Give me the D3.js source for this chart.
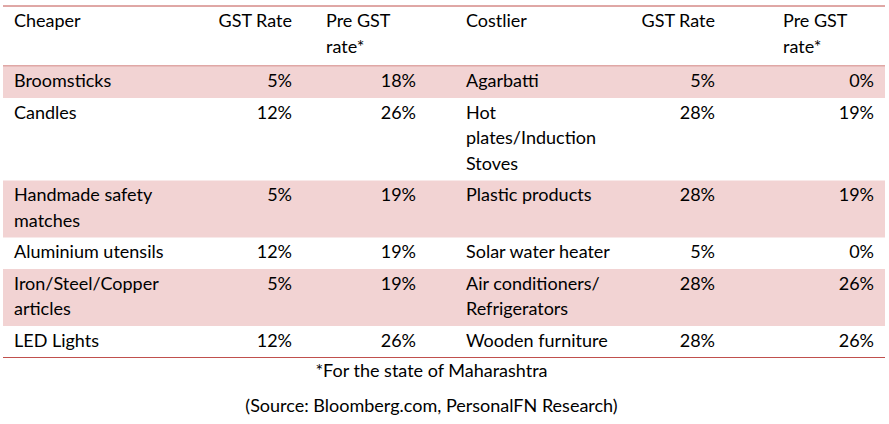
<!DOCTYPE html>
<html><head><meta charset="utf-8">
<script src="https://cdn.jsdelivr.net/npm/d3@7"></script>
<style>body{margin:0;background:#fff}</style>
</head><body><svg id="chart"></svg>
<script>
const headers = [["Cheaper"], ["GST Rate"], ["Pre GST", "rate*"], ["Costlier"], ["GST Rate"], ["Pre GST", "rate*"]];
const cheaper = [["Broomsticks"], ["Candles"], ["Handmade safety", "matches"], ["Aluminium utensils"], ["Iron/Steel/Copper", "articles"], ["LED Lights"]];
const cheaperGst = ["5%", "12%", "5%", "12%", "5%", "12%"];
const cheaperPre = ["18%", "26%", "19%", "19%", "19%", "26%"];
const costlier = [["Agarbatti"], ["Hot", "plates/Induction", "Stoves"], ["Plastic products"], ["Solar water heater"], ["Air conditioners/", "Refrigerators"], ["Wooden furniture"]];
const costlierGst = ["5%", "28%", "28%", "5%", "28%", "28%"];
const costlierPre = ["0%", "19%", "19%", "0%", "26%", "26%"];
const notes = ["*For the state of Maharashtra", "(Source: Bloomberg.com, PersonalFN Research)"];

const W = 889, H = 424, left = 3, right = 885, lh = 25.5, pad = 6;
const svg = d3.select("#chart").attr("width", W).attr("height", H)
  .style("font-family", "Lato, 'Open Sans', sans-serif").style("font-size", "18px");

// column x positions and anchors
const cols = [{x: 14, a: "start"}, {x: 292, a: "end"}, {x: 416, a: "end"},
              {x: 466, a: "start"}, {x: 715, a: "end"}, {x: 874, a: "end"}];
const headCols = [{x: 14, a: "start"}, {x: 292, a: "end"}, {x: 326, a: "start"},
                  {x: 466, a: "start"}, {x: 715, a: "end"}, {x: 783, a: "start"}];

const rows = cheaper.map((c, i) => [c, [cheaperGst[i]], [cheaperPre[i]], costlier[i], [costlierGst[i]], [costlierPre[i]]]);

let y = 6;
const headH = 60;
const hg = svg.append("g");
headers.forEach((h, j) => {
  hg.append("text").attr("text-anchor", headCols[j].a).attr("fill", "#000")
    .selectAll("tspan").data(h).join("tspan")
    .attr("x", headCols[j].x).attr("y", (d, k) => y + 21 + k * lh).text(d => d);
});
svg.append("line").attr("x1", left).attr("x2", right).attr("y1", y).attr("y2", y).attr("stroke", "#c0504d");
y += headH;
svg.append("line").attr("x1", left).attr("x2", right).attr("y1", y).attr("y2", y).attr("stroke", "#c0504d");

rows.forEach((r, i) => {
  const n = d3.max(r, c => c.length);
  const h = pad + n * lh;
  const g = svg.append("g");
  if (i % 2 === 0) g.append("rect").attr("x", left).attr("y", y + 0.5).attr("width", right - left).attr("height", h).attr("fill", "#f2d3d3");
  r.forEach((c, j) => {
    g.append("text").attr("text-anchor", cols[j].a).attr("fill", "#000")
      .selectAll("tspan").data(c).join("tspan")
      .attr("x", cols[j].x).attr("y", (d, k) => y + 21 + k * lh).text(d => d);
  });
  y += h;
});
svg.append("line").attr("x1", left).attr("x2", right).attr("y1", y + 0.5).attr("y2", y + 0.5).attr("stroke", "#c0504d");

svg.selectAll(".note").data(notes).join("text").attr("class", "note")
  .attr("x", W / 2 - 13).attr("y", (d, i) => 377 + i * 35).attr("text-anchor", "middle")
  .attr("fill", "#000").text(d => d);
</script></body></html>
